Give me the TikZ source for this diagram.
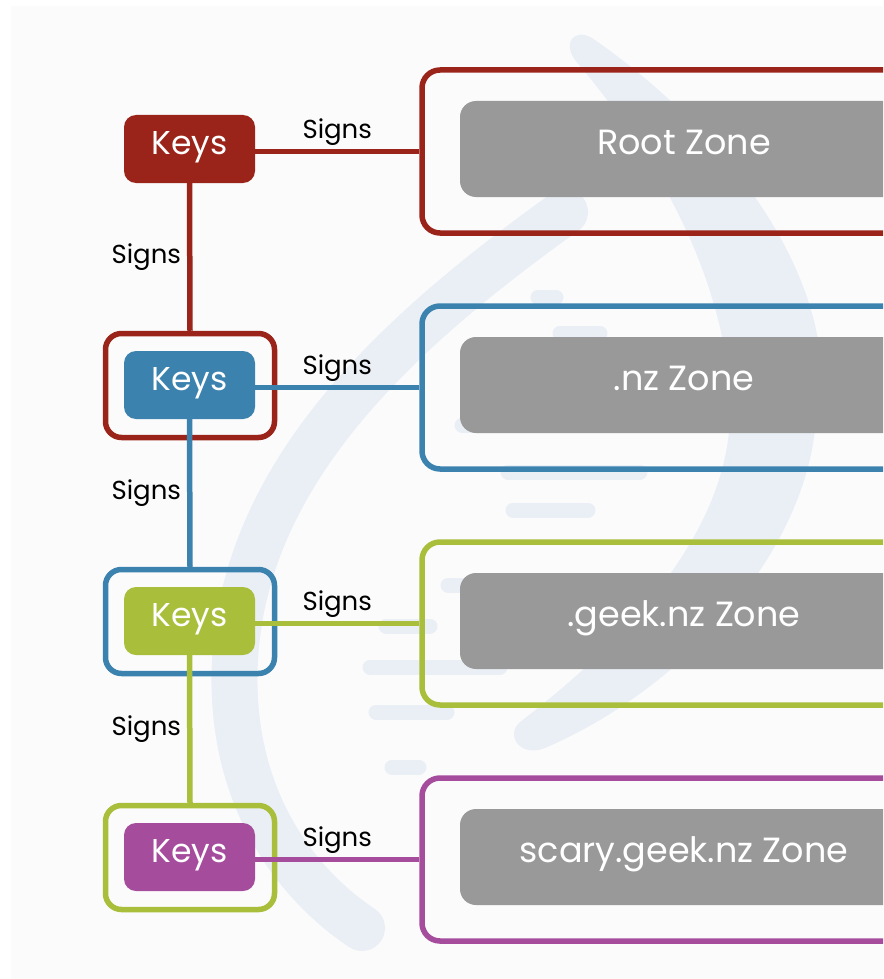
\documentclass[tikz,border=0pt]{standalone}
\usepackage{fontspec}
\setmainfont{Poppins}
\definecolor{cred}{HTML}{9A2419}
\definecolor{cblue}{HTML}{3B82AE}
\definecolor{cgreen}{HTML}{A9BF3B}
\definecolor{cpurple}{HTML}{A54C9D}
\definecolor{zgray}{HTML}{999999}
\definecolor{wmark}{HTML}{EAEFF6}
\definecolor{bgc}{HTML}{FBFBFC}
\begin{document}
\begin{tikzpicture}[x=1pt,y=-1pt,
  keybox/.style={rounded corners=12pt,minimum width=131pt,minimum height=68pt,inner sep=0pt,text=white,font=\fontsize{33}{38}\selectfont,text height=24pt,text depth=13pt},
  keyframe/.style={draw,line width=5.5pt,rounded corners=16pt,minimum width=169pt,minimum height=104pt,inner sep=0pt},
  zoneframe/.style={draw,line width=5.5pt,rounded corners=18pt,minimum width=500pt,minimum height=163pt,inner sep=0pt},
  zonebox/.style={fill=zgray,rounded corners=16pt,minimum width=448pt,minimum height=96pt,inner sep=0pt,text=white,font=\fontsize{35}{40}\selectfont,text height=25pt,text depth=14pt},
  conn/.style={line width=5.5pt},
  signlbl/.style={text=black,font=\fontsize{26}{30}\selectfont,inner sep=0pt},
  dashmark/.style={wmark,line width=15pt,line cap=round}
]
\useasboundingbox (0,0) rectangle (883,979);
\clip (0,0) rectangle (883,979);
\fill[bgc] (11,6) rectangle (883,979);
% watermark
\fill[wmark] (592,38) .. controls (740,140) and (850,300) .. (815,430)
  .. controls (800,560) and (680,690) .. (545,748)
  .. controls (520,758) and (505,735) .. (520,722)
  .. controls (640,630) and (735,520) .. (730,400)
  .. controls (725,280) and (660,160) .. (575,60)
  .. controls (562,42) and (575,28) .. (592,38) -- cycle;
\draw[wmark,line width=46pt,line cap=round] (565,212) .. controls (400,330) and (245,470) .. (235,660) .. controls (228,790) and (290,880) .. (362,928);
\draw[dashmark] (538,297) -- (556,297);
\draw[dashmark] (560,333) -- (600,333);
\draw[dashmark] (462,425) -- (560,425);
\draw[dashmark] (508,472) -- (640,472);
\draw[dashmark] (513,510) -- (588,510);
\draw[dashmark] (448,585) -- (520,585);
\draw[dashmark] (386,626) -- (430,626);
\draw[dashmark] (370,667) -- (500,667);
\draw[dashmark] (376,712) -- (447,712);
\draw[dashmark] (392,767) -- (419,767);
% zone frames
\node[zoneframe,draw=cred] (zf1) at (672,151.5) {};
\node[zoneframe,draw=cblue] (zf2) at (672,387.5) {};
\node[zoneframe,draw=cgreen] (zf3) at (672,623.5) {};
\node[zoneframe,draw=cpurple] (zf4) at (672,859.5) {};
% zone boxes
\node[zonebox] (z1) at (684,149) {Root Zone};
\node[zonebox] (z2) at (684,385) {.nz Zone};
\node[zonebox] (z3) at (684,621) {.geek.nz Zone};
\node[zonebox] (z4) at (684,857) {scary.geek.nz Zone};
% key frames
\node[keyframe,draw=cred] (kf2) at (190,385.5) {};
\node[keyframe,draw=cblue] (kf3) at (190,621.5) {};
\node[keyframe,draw=cgreen] (kf4) at (190,857.5) {};
% keys
\node[keybox,fill=cred] (k1) at (189.5,149) {Keys};
\node[keybox,fill=cblue] (k2) at (189.5,385) {Keys};
\node[keybox,fill=cgreen] (k3) at (189.5,621) {Keys};
\node[keybox,fill=cpurple] (k4) at (189.5,857) {Keys};
% connectors
\draw[conn,cred] (k1.south) -- (kf2.north) node[midway,anchor=east,xshift=-6pt,signlbl] {Signs};
\draw[conn,cblue] (k2.south) -- (kf3.north) node[midway,anchor=east,xshift=-6pt,signlbl] {Signs};
\draw[conn,cgreen] (k3.south) -- (kf4.north) node[midway,anchor=east,xshift=-6pt,signlbl] {Signs};
\draw[conn,cred] (k1.east |- zf1.west) -- (zf1.west) node[midway,anchor=base,yshift=13pt,signlbl] {Signs};
\draw[conn,cblue] (k2.east |- zf2.west) -- (zf2.west) node[midway,anchor=base,yshift=13pt,signlbl] {Signs};
\draw[conn,cgreen] (k3.east |- zf3.west) -- (zf3.west) node[midway,anchor=base,yshift=13pt,signlbl] {Signs};
\draw[conn,cpurple] (k4.east |- zf4.west) -- (zf4.west) node[midway,anchor=base,yshift=13pt,signlbl] {Signs};
\end{tikzpicture}
\end{document}
